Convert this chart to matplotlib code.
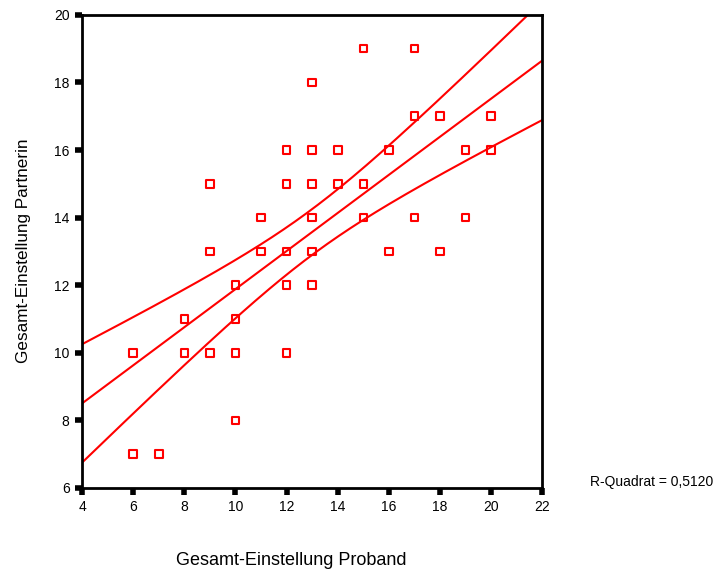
import numpy as np
import matplotlib
matplotlib.use('Agg')
import matplotlib.pyplot as plt

plt.rcParams['font.family'] = ['Liberation Sans', 'DejaVu Sans']

# Gesamt-Einstellung Proband (x) / Partnerin (y)
proband = [15, 17, 13, 17, 18, 20, 12, 13, 14, 16, 19, 20, 9, 12, 13, 14, 15,
           11, 13, 15, 17, 19, 9, 11, 12, 13, 16, 18, 10, 12, 13, 8, 10,
           6, 8, 9, 10, 12, 10, 6, 7]
partnerin = [19, 19, 18, 17, 17, 17, 16, 16, 16, 16, 16, 16, 15, 15, 15, 15, 15,
             14, 14, 14, 14, 14, 13, 13, 13, 13, 13, 13, 12, 12, 12, 11, 11,
             10, 10, 10, 10, 10, 8, 7, 7]
x_ticks = [4, 6, 8, 10, 12, 14, 16, 18, 20, 22]
y_ticks = [6, 8, 10, 12, 14, 16, 18, 20]
r2_text = 'R-Quadrat = 0,5120'

x = np.array(proband, dtype=float)
y = np.array(partnerin, dtype=float)
n = len(x)

# linear fit and 95% confidence band of the mean
slope, intercept = np.polyfit(x, y, 1)
resid = y - (intercept + slope * x)
s = np.sqrt(np.sum(resid ** 2) / (n - 2))
sxx = np.sum((x - x.mean()) ** 2)
t = 2.023
xs = np.linspace(4, 22, 200)
fit = intercept + slope * xs
half = t * s * np.sqrt(1 / n + (xs - x.mean()) ** 2 / sxx)

fig = plt.figure(figsize=(7.26, 5.72), dpi=100)
ax = fig.add_axes([0.113, 0.147, 0.634, 0.827])

ax.plot(xs, fit, color='red', lw=1.5)
ax.plot(xs, fit + half, color='red', lw=1.5)
ax.plot(xs, fit - half, color='red', lw=1.5)
ax.scatter(x, y, marker='s', s=30, facecolors='none', edgecolors='red', linewidths=1.5, zorder=3)

ax.set_xlim(4, 22)
ax.set_ylim(6, 20)
ax.set_xticks(x_ticks)
ax.set_yticks(y_ticks)
ax.tick_params(direction='out', length=5, width=4, color='black', labelsize=10, pad=4)
for sp in ax.spines.values():
    sp.set_linewidth(2)
    sp.set_color('black')

ax.set_xlabel('Gesamt-Einstellung Proband', fontsize=13, va='center')
ax.xaxis.set_label_coords(0.455, -0.154)
ax.set_ylabel('Gesamt-Einstellung Partnerin', fontsize=12.3, va='center')
ax.yaxis.set_label_coords(-0.128, 0.501)

fig.text(0.812, 0.158, r2_text, fontsize=10, va='center', ha='left')

fig.savefig('out.png', dpi=100)
